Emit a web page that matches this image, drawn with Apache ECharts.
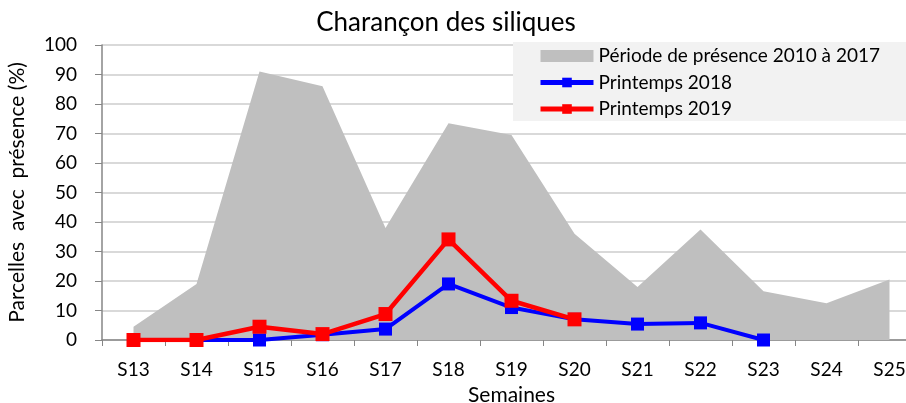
<!DOCTYPE html>
<html><head><meta charset="utf-8">
<script src="https://cdn.jsdelivr.net/npm/echarts@6/dist/echarts.min.js"></script>
<style>html,body{margin:0;padding:0;background:#fff}#c{width:906px;height:403px}</style>
</head><body><div id="c"></div>
<script>
const weeks = ['S13','S14','S15','S16','S17','S18','S19','S20','S21','S22','S23','S24','S25'];
const presence2010_2017 = [4.5, 19, 91, 86, 38, 73.5, 69.5, 36, 18, 37.5, 16.5, 12.5, 20.5];
const printemps2018 = [0, 0, 0, 1.8, 3.7, 19, 11, 7, 5.4, 5.8, 0, null, null];
const printemps2019 = [0, 0, 4.5, 2, 8.8, 34.1, 13.3, 7, null, null, null, null, null];
const yTicks = [0, 10, 20, 30, 40, 50, 60, 70, 80, 90, 100];

const FONT = 'Lato, "Open Sans", sans-serif';
const chart = echarts.init(document.getElementById('c'), null, {renderer: 'canvas'});
chart.setOption({
  animation: false,
  textStyle: {fontFamily: FONT},
  title: {text: 'Charançon des siliques', left: 441, top: 5, textAlign: 'center',
    textStyle: {fontFamily: FONT, fontSize: 26, fontWeight: 'normal', color: '#000'}},
  grid: {left: 102, width: 819, top: 45, bottom: 63, outerBoundsMode: 'none', containLabel: false},
  graphic: [{type: 'rect', shape: {x: 513, y: 42, width: 393, height: 79}, style: {fill: '#f2f2f2'}, z: 5}],
  legend: {
    left: 533, top: 41, orient: 'vertical', itemGap: 6.5, itemWidth: 53, itemHeight: 12, z: 6,
    textStyle: {fontFamily: FONT, fontSize: 19, lineHeight: 20, color: '#000'},
    data: [
      {name: 'Période de présence 2010 à 2017', icon: 'rect', itemStyle: {color: '#bfbfbf'}},
      {name: 'Printemps 2018', lineStyle: {width: 5, color: '#0000ff'}},
      {name: 'Printemps 2019', lineStyle: {width: 5, color: '#ff0000'}}
    ]
  },
  xAxis: {
    type: 'category', data: weeks, boundaryGap: true,
    name: 'Semaines', nameLocation: 'middle', nameGap: 45,
    nameTextStyle: {fontFamily: FONT, fontSize: 21, color: '#000'},
    axisLine: {lineStyle: {color: '#868686', width: 1.5}},
    axisTick: {show: true, length: 6, lineStyle: {color: '#868686'}},
    axisLabel: {fontFamily: FONT, fontSize: 19, color: '#000', margin: 20},
    splitLine: {show: false}
  },
  yAxis: {
    type: 'value', min: 0, max: 100, interval: 10,
    name: 'Parcelles  avec  présence (%)', nameLocation: 'middle', nameGap: 74, nameRotate: 90,
    nameTextStyle: {fontFamily: FONT, fontSize: 21, color: '#000'},
    axisLine: {show: true, lineStyle: {color: '#868686', width: 1.5}},
    axisTick: {show: true, length: 7, lineStyle: {color: '#868686'}},
    axisLabel: {fontFamily: FONT, fontSize: 19, color: '#000', margin: 25,
      formatter: v => yTicks.includes(v) ? String(v) : ''},
    splitLine: {lineStyle: {color: '#d9d9d9', width: 2}}
  },
  series: [
    {name: 'Période de présence 2010 à 2017', type: 'line', data: presence2010_2017,
      symbol: 'none', lineStyle: {width: 0, color: '#bfbfbf'}, itemStyle: {color: '#bfbfbf'},
      areaStyle: {color: '#bfbfbf', opacity: 1}, z: 1},
    {name: 'Printemps 2018', type: 'line', data: printemps2018, symbol: 'rect', symbolSize: 13,
      lineStyle: {width: 4, color: '#0000ff'}, itemStyle: {color: '#0000ff'}, z: 3},
    {name: 'Printemps 2019', type: 'line', data: printemps2019, symbol: 'rect', symbolSize: 14,
      lineStyle: {width: 4.5, color: '#ff0000'}, itemStyle: {color: '#ff0000'}, z: 4}
  ]
});
</script></body></html>
